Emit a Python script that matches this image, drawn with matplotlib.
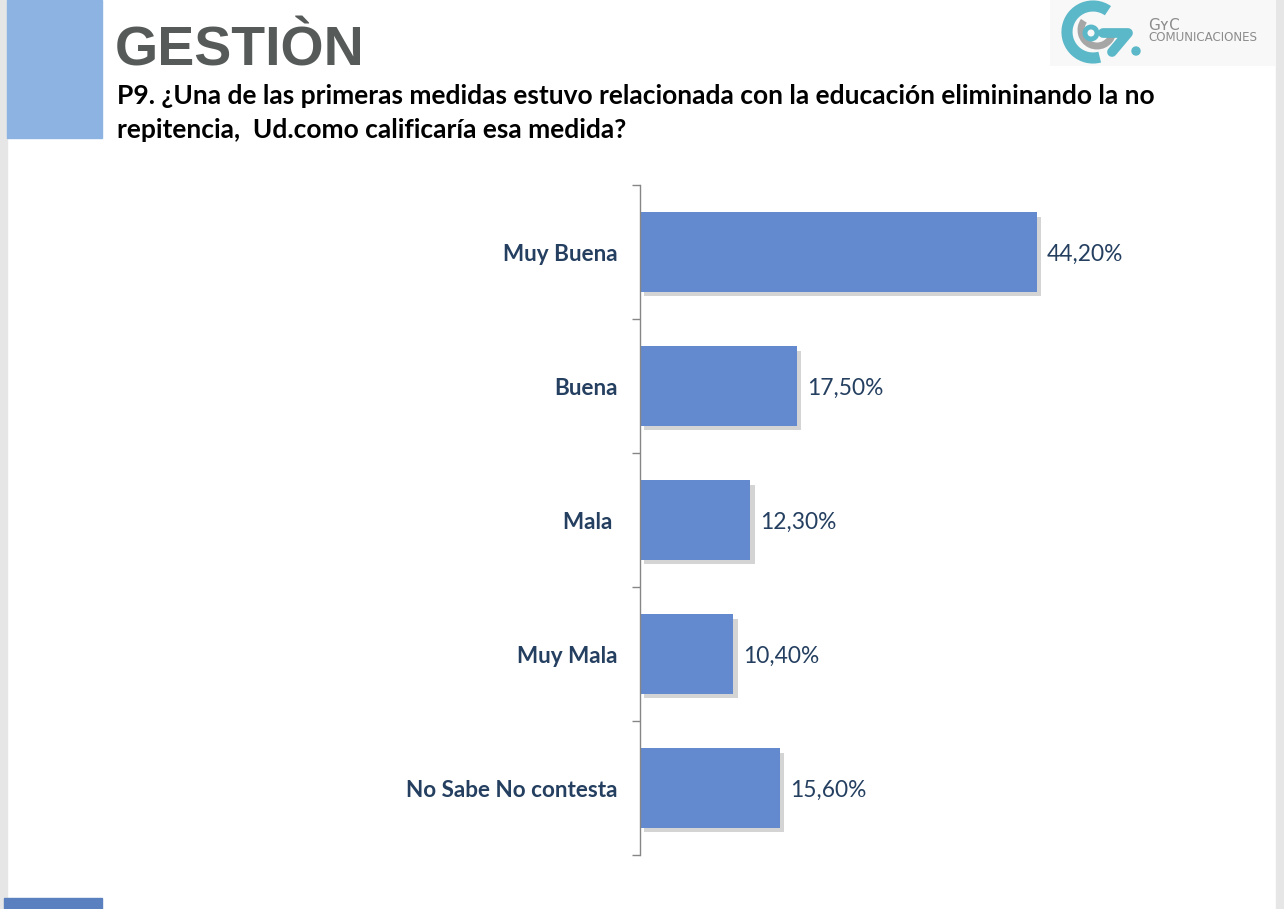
import matplotlib.pyplot as plt
import matplotlib.patheffects as pe
from matplotlib.patches import Rectangle, Arc, Circle

categories = ["Muy Buena", "Buena", "Mala ", "Muy Mala", "No Sabe No contesta"]
values = [44.2, 17.5, 12.3, 10.4, 15.6]
value_labels = ["44,20%", "17,50%", "12,30%", "10,40%", "15,60%"]

W, H = 1284, 909
fig = plt.figure(figsize=(W / 100, H / 100), dpi=100)
fig.patch.set_facecolor("white")


def fx(x):
    return x / W


def fy(y):
    return 1 - y / H


# page decorations
fig.add_artist(Rectangle((0, 0), fx(7), 1, transform=fig.transFigure, color="#e6e6e6", zorder=0))
fig.add_artist(Rectangle((fx(1276), 0), fx(8), 1, transform=fig.transFigure, color="#e6e6e6", zorder=0))
fig.add_artist(Rectangle((fx(7), fy(138)), fx(95), 138 / H, transform=fig.transFigure, color="#8db3e2", zorder=1))
fig.add_artist(Rectangle((fx(4), 0), fx(98), 11 / H, transform=fig.transFigure, color="#5b80bf", zorder=1))

fig.text(fx(115), fy(66), "GESTIÒN", family="Liberation Sans", weight="bold",
         fontsize=40, color="#565b59", va="baseline")
fig.text(fx(117), fy(104), "P9. ¿Una de las primeras medidas estuvo relacionada con la educación elimininando la no",
         family="Lato", weight="bold", fontsize=19, color="black", va="baseline")
fig.text(fx(117), fy(138), "repitencia,  Ud.como calificaría esa medida?",
         family="Lato", weight="bold", fontsize=19, color="black", va="baseline")

# logo
lax = fig.add_axes([fx(1050), fy(66), fx(226), 66 / H])
lax.set_xlim(1050, 1276)
lax.set_ylim(66, 0)
lax.axis("off")
lax.add_patch(Rectangle((1050, 0), 226, 66, color="#f8f8f8"))
lax.add_patch(Arc((1093, 32), 52, 52, theta1=75, theta2=305, lw=8, color="#5bb8c8"))
lax.add_patch(Arc((1097, 30), 32, 32, theta1=15, theta2=215, lw=5, color="#a6a6a6"))
lax.add_patch(Circle((1091, 33), 6, fill=False, lw=3.5, color="#5bb8c8"))
lax.plot([1103, 1128, 1112], [33, 33, 52], color="#5bb8c8", lw=7, solid_capstyle="round")
lax.add_patch(Circle((1136, 51), 4, color="#5bb8c8"))
lax.text(1148, 30, "GʏC", fontsize=11, color="#8c8c8c", family="DejaVu Sans")
lax.text(1148, 41, "COMUNICACIONES", fontsize=8.6, color="#8c8c8c", family="DejaVu Sans")

# chart
ax = fig.add_axes([fx(640), fy(855), fx(600), 670 / H])
ypos = list(range(len(categories)))
bars = ax.barh(ypos, values, height=0.59, color="#6389cf", zorder=2)
for b in bars:
    b.set_path_effects([pe.SimplePatchShadow(offset=(3, -3), shadow_rgbFace="#a0a0a0", alpha=0.45),
                        pe.Normal()])
ax.set_ylim(len(categories) - 0.5, -0.5)
ax.set_xlim(0, 600 / 8.98)
for s in ["top", "right", "bottom"]:
    ax.spines[s].set_visible(False)
ax.spines["left"].set_color("#868686")
ax.spines["left"].set_linewidth(1)
ax.set_xticks([])
ax.set_yticks([i - 0.5 for i in range(len(categories) + 1)], minor=False)
ax.set_yticklabels([])
ax.tick_params(axis="y", length=6, color="#868686", width=1)
for i, c in enumerate(categories):
    ax.text(-2.45, i + 0.015, c, ha="right", va="center", family="Lato", weight="bold",
            fontsize=16.2, color="#243f60")
for i, (v, t) in enumerate(zip(values, value_labels)):
    ax.text(v + 1.1, i + 0.015, t, ha="left", va="center", family="Lato",
            fontsize=16.4, color="#243f60")

fig.savefig("out.png", dpi=100)
